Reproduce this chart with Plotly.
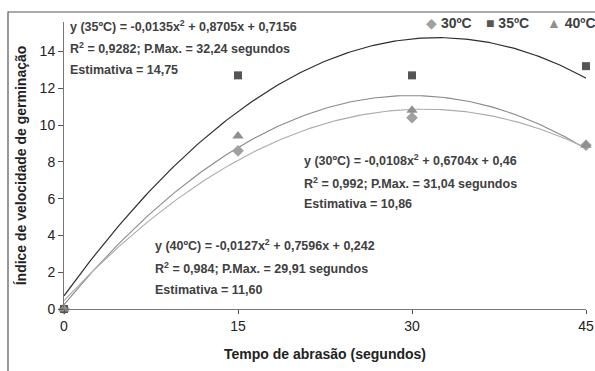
import numpy as np
import plotly.graph_objects as go

# ---- data ----
times = [0, 15, 30, 45]
iv_30 = [0.0, 8.6, 10.4, 8.9]
iv_35 = [0.0, 12.7, 12.7, 13.2]
iv_40 = [0.0, 9.4, 10.8, 8.9]

# regression coefficients (a, b, c) for y = a x^2 + b x + c, as printed on the chart
coef_30 = [-0.0108, 0.6704, 0.46]
coef_35 = [-0.0135, 0.8705, 0.7156]
coef_40 = [-0.0127, 0.7596, 0.242]

series_names = ["30ºC", "35ºC", "40ºC"]
x_ticks = [0, 15, 30, 45]
y_ticks = [0, 2, 4, 6, 8, 10, 12, 14]

eq_35 = ["y (35ºC) = -0,0135x<sup>2</sup> + 0,8705x + 0,7156",
         "R<sup>2</sup> = 0,9282; P.Max. = 32,24 segundos",
         "Estimativa = 14,75"]
eq_30 = ["y (30ºC) = -0,0108x<sup>2</sup> + 0,6704x + 0,46",
         "R<sup>2</sup> = 0,992; P.Max. = 31,04 segundos",
         "Estimativa = 10,86"]
eq_40 = ["y (40ºC) = -0,0127x<sup>2</sup> + 0,7596x + 0,242",
         "R<sup>2</sup> = 0,984; P.Max. = 29,91 segundos",
         "Estimativa = 11,60"]

FONT = "Liberation Sans, Arial, sans-serif"
TXT = "#404040"

xs = np.linspace(0, 45, 200)

def poly(c):
    return c[0] * xs ** 2 + c[1] * xs + c[2]

fig = go.Figure()
# trendlines
fig.add_trace(go.Scatter(x=xs, y=poly(coef_35), mode="lines",
                         line=dict(color="#2e2e2e", width=1.2), showlegend=False, hoverinfo="skip"))
fig.add_trace(go.Scatter(x=xs, y=poly(coef_40), mode="lines",
                         line=dict(color="#8a8a8a", width=1.1), showlegend=False, hoverinfo="skip"))
fig.add_trace(go.Scatter(x=xs, y=poly(coef_30), mode="lines",
                         line=dict(color="#acacac", width=1.1), showlegend=False, hoverinfo="skip"))
# markers
fig.add_trace(go.Scatter(x=times, y=iv_30, mode="markers", name=series_names[0],
                         marker=dict(symbol="diamond", size=9, color="#a0a0a0"),
                         cliponaxis=False, showlegend=False))
fig.add_trace(go.Scatter(x=times, y=iv_35, mode="markers", name=series_names[1],
                         marker=dict(symbol="square", size=8, color="#555555"),
                         cliponaxis=False, showlegend=False))
fig.add_trace(go.Scatter(x=times, y=iv_40, mode="markers", name=series_names[2],
                         marker=dict(symbol="triangle-up", size=10, color="#909090"),
                         cliponaxis=False, showlegend=False))

annotations = []

def add_block(lines, x, ys):
    for t, yv in zip(lines, ys):
        annotations.append(dict(x=x, y=yv, xref="x", yref="y", text=f"<b>{t}</b>", showarrow=False,
                                xanchor="left", yanchor="middle",
                                font=dict(family=FONT, size=12.5, color=TXT)))

add_block(eq_35, 0.35, [15.38, 14.2, 13.0])
add_block(eq_30, 20.5, [8.1, 6.85, 5.7])
add_block(eq_40, 7.7, [3.48, 2.23, 1.03])

# legend (manual)
leg = [("◆", "#a0a0a0", series_names[0], 0.69),
       ("■", "#555555", series_names[1], 0.805),
       ("▲", "#909090", series_names[2], 0.922)]
for sym, col, name, xp in leg:
    annotations.append(dict(x=xp, y=0.995, xref="paper", yref="paper", showarrow=False,
                            xanchor="left", yanchor="middle",
                            text=f"<span style='color:{col}'>{sym}</span> <b>{name}</b>",
                            font=dict(family=FONT, size=14, color=TXT)))

fig.update_layout(
    width=595, height=371,
    margin=dict(l=64, r=9, t=22, b=62, autoexpand=False),
    plot_bgcolor="white", paper_bgcolor="white",
    font=dict(family=FONT, color="#222222"),
    annotations=annotations,
    showlegend=False,
    shapes=[dict(type="rect", xref="paper", yref="paper",
                 x0=(8 - 64) / 522, x1=1.2, y0=-0.4, y1=(309 - 12) / 287,
                 line=dict(color="#555555", width=1.2), fillcolor="rgba(0,0,0,0)")],
)
fig.update_xaxes(range=[0, 45], tickvals=x_ticks, ticktext=[str(v) for v in x_ticks],
                 showgrid=False, zeroline=False, showline=True, linecolor="#777777", linewidth=1,
                 ticks="outside", ticklen=4, tickcolor="#555555",
                 tickfont=dict(family=FONT, size=14, color="#222222"),
                 title=dict(text="<b>Tempo de abrasão (segundos)</b>", standoff=16,
                            font=dict(family=FONT, size=14, color="#222222")))
fig.update_yaxes(range=[0, 15.6], tickvals=y_ticks, ticktext=[str(v) for v in y_ticks],
                 showgrid=False, zeroline=False, showline=True, linecolor="#777777", linewidth=1,
                 ticks="outside", ticklen=5, tickcolor="#555555",
                 tickfont=dict(family=FONT, size=14, color="#222222"),
                 title=dict(text="<b>Índice de velocidade de germinação</b>", standoff=9,
                            font=dict(family=FONT, size=14, color="#222222")))

fig.write_html("out.html")
